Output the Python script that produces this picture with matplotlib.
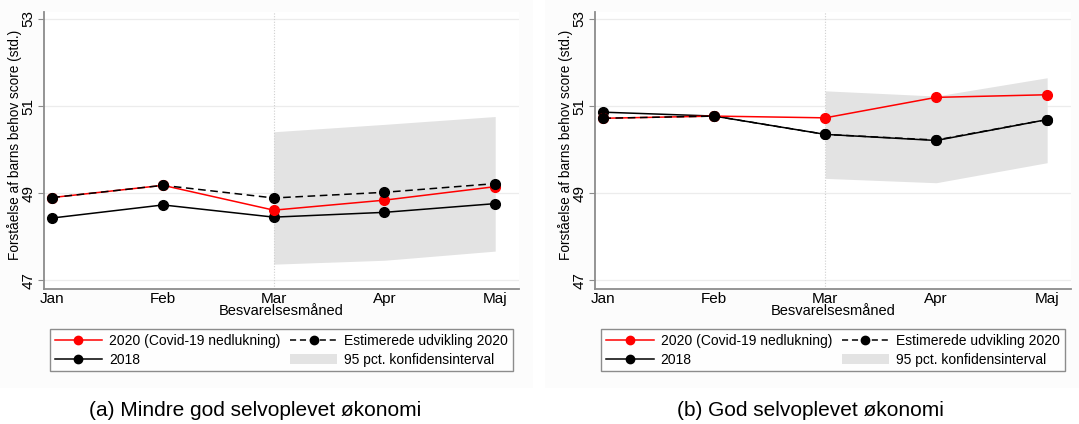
import matplotlib.pyplot as plt
from matplotlib.patches import Patch, Rectangle
from matplotlib.lines import Line2D

plt.rcParams["font.family"] = ["Liberation Sans", "DejaVu Sans"]

# ---------------------------------------------------------------------------
# Data
# ---------------------------------------------------------------------------
months = ["Jan", "Feb", "Mar", "Apr", "Maj"]
ci_months = ["Mar", "Apr", "Maj"]

# (a) Mindre god selvoplevet økonomi
a_2020 = [48.90, 49.18, 48.61, 48.84, 49.15]
a_2018 = [48.43, 48.73, 48.45, 48.56, 48.76]
a_est = [48.90, 49.18, 48.89, 49.02, 49.22]
a_ci_low = [47.37, 47.46, 47.67]
a_ci_high = [50.41, 50.58, 50.76]

# (b) God selvoplevet økonomi
b_2020 = [50.72, 50.77, 50.73, 51.20, 51.26]
b_2018 = [50.86, 50.77, 50.35, 50.21, 50.69]
b_est = [50.72, 50.77, 50.35, 50.22, 50.69]
b_ci_low = [49.34, 49.24, 49.70]
b_ci_high = [51.35, 51.23, 51.65]

captions = ["(a) Mindre god selvoplevet økonomi", "(b) God selvoplevet økonomi"]
yticks = [47, 49, 51, 53]

RED = "#ff0000"
BAND = "#e3e3e3"
SPINE = "#8c8c8c"


def draw_panel(ax, y2020, y2018, yest, lo, hi):
    x = list(range(len(months)))
    xci = [months.index(m) for m in ci_months]

    for t in yticks:
        ax.axhline(t, color="#ececec", lw=0.9, zorder=0)
    ax.fill_between(xci, lo, hi, color=BAND, lw=0, zorder=1)
    ax.axvline(months.index("Mar"), color="#cfcfcf", lw=0.8, ls=(0, (1, 1.5)), zorder=1.5)

    ax.plot(x, y2018, color="black", lw=1.1, marker="o", ms=7, zorder=3)
    ax.plot(x, y2020, color=RED, lw=1.1, marker="o", ms=7, zorder=4)
    ax.plot(x, yest, color="black", lw=1.1, ls=(0, (5, 3)), marker="o", ms=7, zorder=5)

    ax.set_xlim(-0.075, 4.215)
    ax.set_ylim(46.8, 53.16)
    ax.set_xticks(x)
    ax.set_xticklabels(months, fontsize=11)
    ax.set_yticks(yticks)
    ax.set_yticklabels([str(t) for t in yticks], fontsize=11, rotation=90, va="center")
    ax.tick_params(axis="x", length=0, pad=2)
    ax.tick_params(axis="y", length=4, color=SPINE, pad=2)
    ax.set_xlabel("Besvarelsesmåned", fontsize=10.5, labelpad=-1)
    ax.set_ylabel("Forståelse af barns behov score (std.)", fontsize=9.8)
    ax.yaxis.set_label_coords(-0.046, 0.52)
    for s in ["top", "right"]:
        ax.spines[s].set_visible(False)
    for s in ["left", "bottom"]:
        ax.spines[s].set_color(SPINE)
        ax.spines[s].set_linewidth(1.3)
    ax.set_facecolor("white")

    handles = [
        Line2D([], [], color=RED, lw=1.1, marker="o", ms=6),
        Line2D([], [], color="black", lw=1.1, marker="o", ms=6),
        Line2D([], [], color="black", lw=1.1, ls=(0, (4, 2.5)), marker="o", ms=6),
        Patch(facecolor=BAND, edgecolor="none"),
    ]
    labels = ["2020 (Covid-19 nedlukning)", "2018",
              "Estimerede udvikling 2020", "95 pct. konfidensinterval"]
    leg = ax.legend(handles, labels, ncol=2, loc="upper center",
                    bbox_to_anchor=(0.5, -0.144), fontsize=10, frameon=True,
                    fancybox=False, edgecolor="#707070", handlelength=3.4,
                    columnspacing=0.7, handletextpad=0.5, labelspacing=0.35,
                    borderpad=0.35, borderaxespad=0.0)
    leg.get_frame().set_linewidth(1.0)


fig = plt.figure(figsize=(10.79, 4.24), dpi=100)

# faint panel backgrounds behind each graph
for x0, w in [(0.0, 0.494), (0.505, 0.495)]:
    fig.patches.append(Rectangle((x0, 0.085), w, 0.915, transform=fig.transFigure,
                                 facecolor="#fcfcfc", edgecolor="none", zorder=-1))

ax_a = fig.add_axes([0.0408, 0.3184, 0.4402, 0.6533])
ax_b = fig.add_axes([0.5514, 0.3184, 0.4412, 0.6533])

draw_panel(ax_a, a_2020, a_2018, a_est, a_ci_low, a_ci_high)
draw_panel(ax_b, b_2020, b_2018, b_est, b_ci_low, b_ci_high)

fig.text(0.236, 0.033, captions[0], fontsize=15, ha="center", va="center")
fig.text(0.751, 0.033, captions[1], fontsize=15, ha="center", va="center")

fig.savefig("out.png", dpi=100)
